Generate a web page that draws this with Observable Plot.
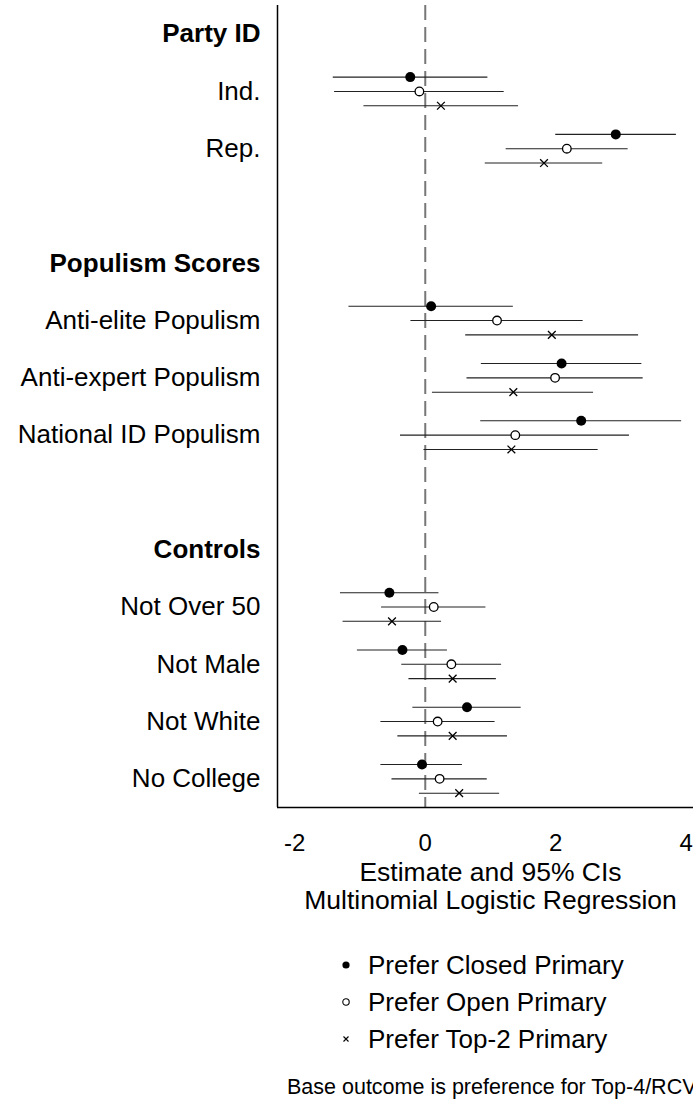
<!DOCTYPE html>
<html><head><meta charset="utf-8">
<script src="https://cdn.jsdelivr.net/npm/d3@7"></script>
<script src="https://cdn.jsdelivr.net/npm/@observablehq/plot@0.6"></script>
<style>
html,body{margin:0;padding:0;background:#fff;overflow:hidden;}
#wrap{width:693px;height:1099px;overflow:hidden;font-family:"Liberation Sans",Arial,sans-serif;color:#000;}
#chart svg{max-width:none !important;height:920px !important;display:block;}
#legend{padding-top:26.5px;margin-left:339px;}
.lrow{height:37px;line-height:37px;font-size:26px;white-space:nowrap;display:flex;align-items:center;}
.lrow svg{margin-right:15px;flex:none;}
#caption{margin-left:287px;margin-top:17px;font-size:21.5px;line-height:24px;white-space:nowrap;}
</style></head><body>
<div id="wrap"><div id="chart"></div><div id="legend"></div><div id="caption"></div></div>
<script>
// Row layout (top to bottom); empty strings are spacer rows
const rows = ["Party ID","Ind.","Rep.","","Populism Scores","Anti-elite Populism","Anti-expert Populism","National ID Populism","","Controls","Not Over 50","Not Male","Not White","No College"];
const headers = ["Party ID","Populism Scores","Controls"];
const terms = ["Ind.","Rep.","Anti-elite Populism","Anti-expert Populism","National ID Populism","Not Over 50","Not Male","Not White","No College"];
const series = ["Prefer Closed Primary","Prefer Open Primary","Prefer Top-2 Primary"];

// Estimates and 95% CIs, per series, in the order of `terms`
const closedEst = [-0.23, 2.92, 0.09, 2.09, 2.39, -0.55, -0.35, 0.64, -0.05];
const closedLo  = [-1.41, 2.00, -1.17, 0.86, 0.85, -1.30, -1.04, -0.19, -0.68];
const closedHi  = [0.96, 3.85, 1.35, 3.32, 3.93, 0.21, 0.34, 1.47, 0.57];

const openEst = [-0.09, 2.17, 1.10, 1.99, 1.38, 0.13, 0.40, 0.19, 0.22];
const openLo  = [-1.39, 1.24, -0.22, 0.64, -0.38, -0.67, -0.36, -0.68, -0.51];
const openHi  = [1.21, 3.11, 2.42, 3.34, 3.13, 0.93, 1.17, 1.07, 0.95];

const top2Est = [0.24, 1.82, 1.94, 1.35, 1.32, -0.51, 0.42, 0.42, 0.52];
const top2Lo  = [-0.94, 0.92, 0.62, 0.11, -0.02, -1.26, -0.25, -0.42, -0.09];
const top2Hi  = [1.43, 2.72, 3.27, 2.58, 2.65, 0.25, 1.09, 1.26, 1.14];

const xTicks = [-2, 0, 2, 4];
const xDomain = [-2.265, 4.265];
const axisTitle = "Estimate and 95% CIs\nMultinomial Logistic Regression";
const caption = "Base outcome is preference for Top-4/RCV";

const est = [closedEst, openEst, top2Est], lo = [closedLo, openLo, top2Lo], hi = [closedHi, openHi, top2Hi];
const offsets = [-0.25, 0, 0.25];
const data = [];
series.forEach((s, k) => terms.forEach((t, i) => data.push({
  series: s, term: t, est: est[k][i], lo: lo[k][i], hi: hi[k][i],
  pos: rows.indexOf(t) + offsets[k]
})));
const rowData = rows.map((name, i) => ({name, i})).filter(d => d.name !== "");
const labelRows = rowData.filter(d => !headers.includes(d.name));
const headerRows = rowData.filter(d => headers.includes(d.name));

const yDomain = [-0.5, rows.length - 0.5];
const lineColor = "#222";

const chart = Plot.plot({
  width: 706, height: 920,
  marginLeft: 277, marginRight: 3, marginTop: 5, marginBottom: 113,
  style: {fontFamily: '"Liberation Sans", Arial, sans-serif', color: "#000", background: "#fff", overflow: "visible", maxWidth: "none"},
  x: {domain: xDomain},
  y: {domain: yDomain, reverse: true, axis: null},
  marks: [
    Plot.ruleX([0], {stroke: "#777", strokeWidth: 2, strokeDasharray: "15,7"}),
    Plot.ruleY(data, {y: "pos", x1: "lo", x2: "hi", stroke: lineColor, strokeWidth: 1.1}),
    Plot.dot(data.filter(d => d.series === series[0]), {x: "est", y: "pos", r: 5, fill: "#000", stroke: null}),
    Plot.dot(data.filter(d => d.series === series[1]), {x: "est", y: "pos", r: 4.3, fill: "#fff", stroke: "#000", strokeWidth: 1.3}),
    Plot.dot(data.filter(d => d.series === series[2]), {x: "est", y: "pos", symbol: "times", r: 3.6, stroke: "#000", strokeWidth: 1.3}),
    Plot.ruleX([xDomain[0]], {stroke: "#000", strokeWidth: 1.5}),
    Plot.ruleY([yDomain[1]], {stroke: "#000", strokeWidth: 1.5}),
    Plot.text(labelRows, {y: "i", text: "name", frameAnchor: "left", textAnchor: "end", dx: -17, fontSize: 26, fill: "#000"}),
    Plot.text(headerRows, {y: "i", text: "name", frameAnchor: "left", textAnchor: "end", dx: -17, fontSize: 26, fontWeight: "bold", fill: "#000"}),
    Plot.axisX({ticks: xTicks, tickSize: 0, tickPadding: 26, fontSize: 24, tickFormat: d => String(d), label: null}),
    Plot.text([axisTitle], {frameAnchor: "bottom", lineAnchor: "top", dy: 54, fontSize: 26.5, lineHeight: 1.04, fill: "#000"})
  ]
});
document.getElementById("chart").appendChild(chart);

// Legend
const symbols = [
  '<circle cx="7" cy="7" r="3.6" fill="#000"/>',
  '<circle cx="7" cy="7" r="3.2" fill="none" stroke="#000" stroke-width="1.1"/>',
  '<path d="M4.5,4.5L9.5,9.5M9.5,4.5L4.5,9.5" stroke="#000" stroke-width="1.1"/>'
];
const legend = document.getElementById("legend");
series.forEach((s, k) => {
  const row = document.createElement("div");
  row.className = "lrow";
  row.innerHTML = `<svg width="14" height="14" viewBox="0 0 14 14">${symbols[k]}</svg><span>${s}</span>`;
  legend.appendChild(row);
});
document.getElementById("caption").textContent = caption;
</script>
</body></html>
